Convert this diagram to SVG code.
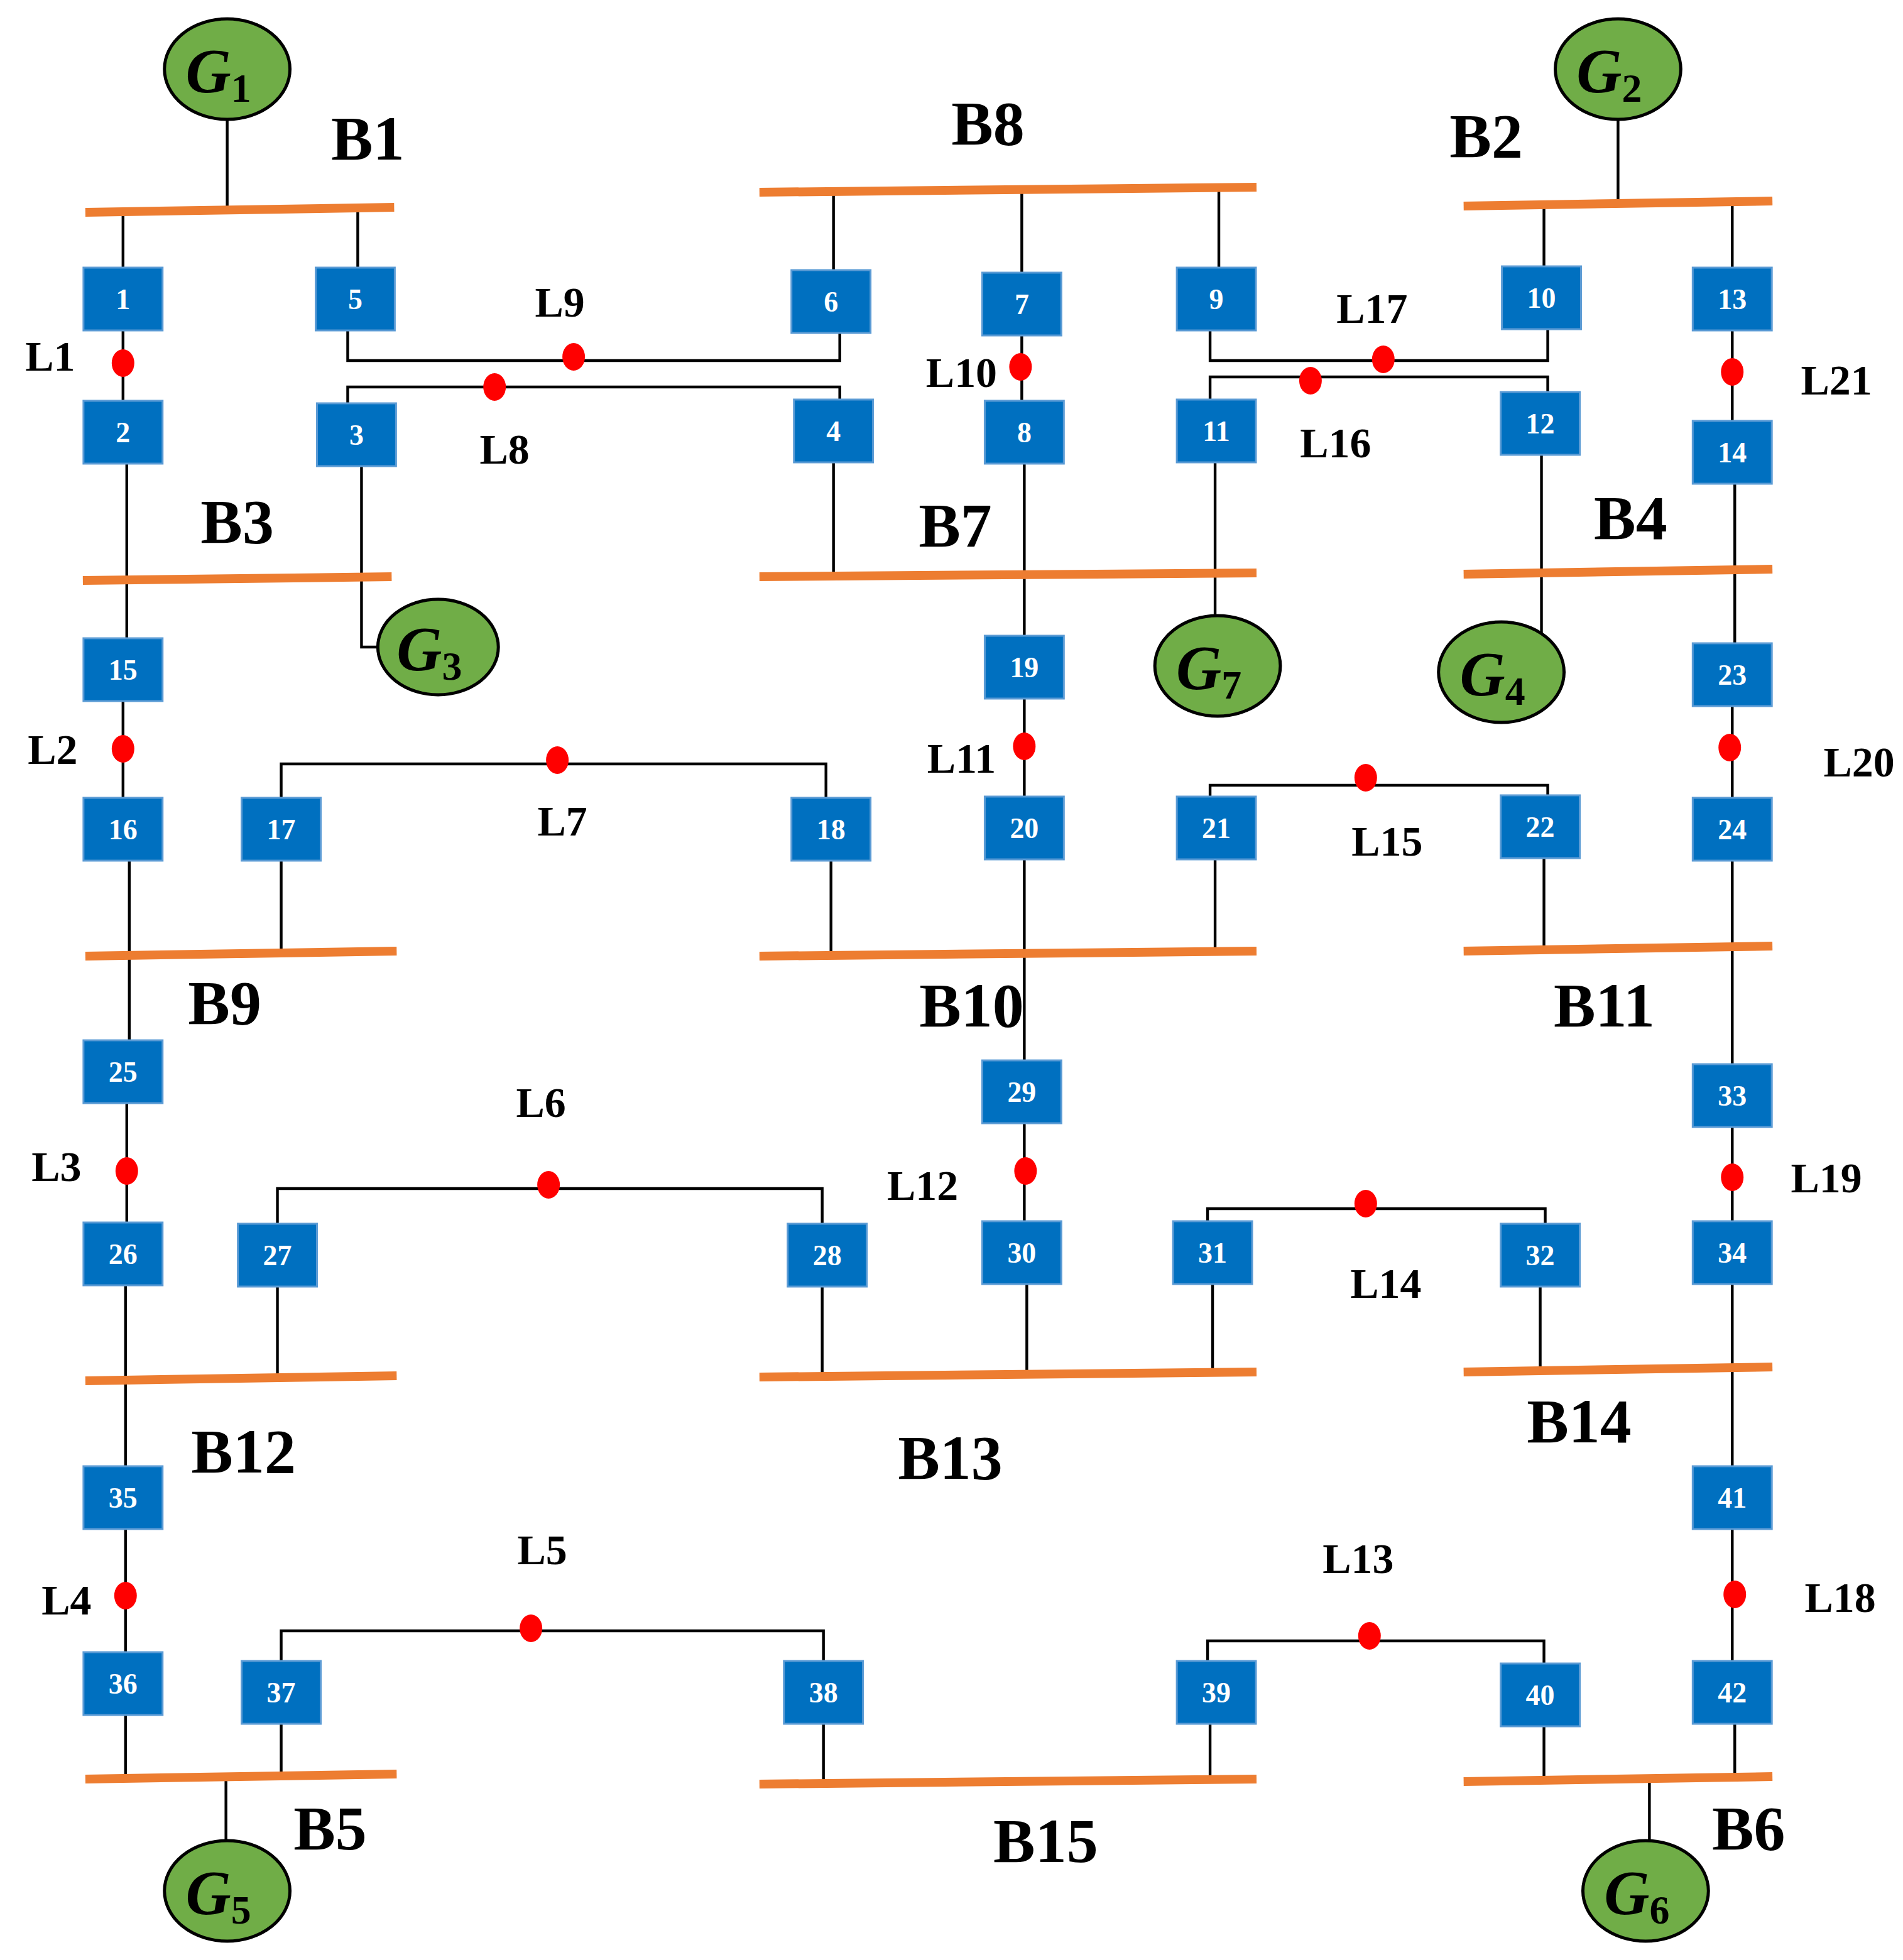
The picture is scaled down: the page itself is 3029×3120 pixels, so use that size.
<svg xmlns="http://www.w3.org/2000/svg" width="3029" height="3120" viewBox="0 0 3029 3120">
<style>
.bus{stroke:#ED7D31;stroke-width:7;fill:none}
.w{stroke:#000;stroke-width:2.2;fill:none}
.bx{fill:#0070C0;stroke:#5B9BD5;stroke-width:1.5}
.bt{font-family:"Liberation Serif",serif;font-weight:bold;font-size:23px;fill:#fff;text-anchor:middle}
.lt{font-family:"Liberation Serif",serif;font-weight:bold;font-size:34px;fill:#000;text-anchor:middle}
.bl{font-family:"Liberation Serif",serif;font-weight:bold;font-size:50px;fill:#000;text-anchor:middle}
.g{fill:#70AD47;stroke:#000;stroke-width:2.5}
.gt{font-family:"Liberation Serif",serif;font-weight:bold;font-style:italic;font-size:50px;fill:#000;text-anchor:middle}
.d{fill:#FF0000}
</style>
<rect width="3029" height="3120" fill="#fff"/>
<g transform="scale(1.998,2)">
<g id="connectors">
<path class="w" d="M181,95V167M1289,95V162M288,370V515H300M968,368V490M1228,362V505M180,1414V1465M1314,1416V1465"/>
<path class="w" d="M98,167V213M98,263V319M101,369V508M98,558V635M103,685V828M101,878V973M100,1023V1167M100,1217V1315M100,1365V1414"/>
<path class="w" d="M285,165V213M277,263V287H669V265M664,215V152M277,321V308H669V318M664,368V457"/>
<path class="w" d="M814,150V217M814,267V319M816,369V506M816,556V634M816,684V844M816,894V972M818,1022V1092"/>
<path class="w" d="M971,150V213M964,263V287H1233V262M1230,212V162M964,318V300H1233V312"/>
<path class="w" d="M1380,160V213M1380,263V335M1382,385V512M1380,562V635M1380,685V847M1380,897V972M1380,1022V1167M1380,1217V1322M1382,1372V1416"/>
<path class="w" d="M224,635V608H658V635M224,685V757M662,685V759M964,634V625H1233V633M968,684V757M1230,683V755"/>
<path class="w" d="M221,974V946H655V974M221,1024V1097M655,1024V1094M962,972V962H1231V974M966,1022V1092M1227,1024V1090"/>
<path class="w" d="M224,1322V1298H656V1322M224,1372V1412M656,1372V1418M962,1322V1306H1230V1324M964,1372V1416M1230,1374V1416"/>
</g>
<g id="buses">
<line id="B1" class="bus" x1="68" y1="169" x2="314" y2="165"/>
<line id="B3" class="bus" x1="66" y1="462" x2="312" y2="459"/>
<line id="B8" class="bus" x1="605" y1="153" x2="1001" y2="149"/>
<line id="B7" class="bus" x1="605" y1="459" x2="1001" y2="456"/>
<line id="B2" class="bus" x1="1166" y1="164" x2="1412" y2="160"/>
<line id="B4" class="bus" x1="1166" y1="457" x2="1412" y2="453"/>
<line id="B9" class="bus" x1="68" y1="761" x2="316" y2="757"/>
<line id="B10" class="bus" x1="605" y1="761" x2="1001" y2="757"/>
<line id="B11" class="bus" x1="1166" y1="757" x2="1412" y2="753"/>
<line id="B12" class="bus" x1="68" y1="1099" x2="316" y2="1095"/>
<line id="B13" class="bus" x1="605" y1="1096" x2="1001" y2="1092"/>
<line id="B14" class="bus" x1="1166" y1="1092" x2="1412" y2="1088"/>
<line id="B5" class="bus" x1="68" y1="1416" x2="316" y2="1412"/>
<line id="B15" class="bus" x1="605" y1="1420" x2="1001" y2="1416"/>
<line id="B6" class="bus" x1="1166" y1="1418" x2="1412" y2="1414"/>
</g>
<g id="bus-labels">
<text class="bl" x="293" y="127">B1</text><text class="bl" x="787" y="115">B8</text><text class="bl" x="1184" y="125">B2</text>
<text class="bl" x="189" y="432">B3</text><text class="bl" x="761" y="435">B7</text><text class="bl" x="1299" y="429">B4</text>
<text class="bl" x="179" y="815">B9</text><text class="bl" x="774" y="817">B10</text><text class="bl" x="1278" y="817">B11</text>
<text class="bl" x="194" y="1172">B12</text><text class="bl" x="757" y="1177">B13</text><text class="bl" x="1258" y="1148">B14</text>
<text class="bl" x="263" y="1472">B5</text><text class="bl" x="833" y="1482">B15</text><text class="bl" x="1393" y="1472">B6</text>
</g>
<g id="G1"><ellipse class="g" cx="181" cy="55" rx="50" ry="40"/><text class="gt" x="174" y="73">G<tspan font-size="32" font-style="normal" dy="8">1</tspan></text></g>
<g id="G2"><ellipse class="g" cx="1289" cy="55" rx="50" ry="40"/><text class="gt" x="1282" y="73">G<tspan font-size="32" font-style="normal" dy="8">2</tspan></text></g>
<g id="G3"><ellipse class="g" cx="349" cy="515" rx="48" ry="38"/><text class="gt" x="342" y="533">G<tspan font-size="32" font-style="normal" dy="8">3</tspan></text></g>
<g id="G7"><ellipse class="g" cx="970" cy="530" rx="50" ry="40"/><text class="gt" x="963" y="548">G<tspan font-size="32" font-style="normal" dy="8">7</tspan></text></g>
<g id="G4"><ellipse class="g" cx="1196" cy="535" rx="50" ry="40"/><text class="gt" x="1189" y="553">G<tspan font-size="32" font-style="normal" dy="8">4</tspan></text></g>
<g id="G5"><ellipse class="g" cx="181" cy="1505" rx="50" ry="40"/><text class="gt" x="174" y="1523">G<tspan font-size="32" font-style="normal" dy="8">5</tspan></text></g>
<g id="G6"><ellipse class="g" cx="1311" cy="1505" rx="50" ry="40"/><text class="gt" x="1304" y="1523">G<tspan font-size="32" font-style="normal" dy="8">6</tspan></text></g>
<g id="boxes">
<g id="n1"><rect class="bx" x="66.5" y="213" width="63" height="50"/><text class="bt" x="98" y="246">1</text></g>
<g id="n5"><rect class="bx" x="251.5" y="213" width="63" height="50"/><text class="bt" x="283" y="246">5</text></g>
<g id="n6"><rect class="bx" x="630.5" y="215" width="63" height="50"/><text class="bt" x="662" y="248">6</text></g>
<g id="n7"><rect class="bx" x="782.5" y="217" width="63" height="50"/><text class="bt" x="814" y="250">7</text></g>
<g id="n9"><rect class="bx" x="937.5" y="213" width="63" height="50"/><text class="bt" x="969" y="246">9</text></g>
<g id="n10"><rect class="bx" x="1196.5" y="212" width="63" height="50"/><text class="bt" x="1228" y="245">10</text></g>
<g id="n13"><rect class="bx" x="1348.5" y="213" width="63" height="50"/><text class="bt" x="1380" y="246">13</text></g>
<g id="n2"><rect class="bx" x="66.5" y="319" width="63" height="50"/><text class="bt" x="98" y="352">2</text></g>
<g id="n3"><rect class="bx" x="252.5" y="321" width="63" height="50"/><text class="bt" x="284" y="354">3</text></g>
<g id="n4"><rect class="bx" x="632.5" y="318" width="63" height="50"/><text class="bt" x="664" y="351">4</text></g>
<g id="n8"><rect class="bx" x="784.5" y="319" width="63" height="50"/><text class="bt" x="816" y="352">8</text></g>
<g id="n11"><rect class="bx" x="937.5" y="318" width="63" height="50"/><text class="bt" x="969" y="351">11</text></g>
<g id="n12"><rect class="bx" x="1195.5" y="312" width="63" height="50"/><text class="bt" x="1227" y="345">12</text></g>
<g id="n14"><rect class="bx" x="1348.5" y="335" width="63" height="50"/><text class="bt" x="1380" y="368">14</text></g>
<g id="n15"><rect class="bx" x="66.5" y="508" width="63" height="50"/><text class="bt" x="98" y="541">15</text></g>
<g id="n19"><rect class="bx" x="784.5" y="506" width="63" height="50"/><text class="bt" x="816" y="539">19</text></g>
<g id="n23"><rect class="bx" x="1348.5" y="512" width="63" height="50"/><text class="bt" x="1380" y="545">23</text></g>
<g id="n16"><rect class="bx" x="66.5" y="635" width="63" height="50"/><text class="bt" x="98" y="668">16</text></g>
<g id="n17"><rect class="bx" x="192.5" y="635" width="63" height="50"/><text class="bt" x="224" y="668">17</text></g>
<g id="n18"><rect class="bx" x="630.5" y="635" width="63" height="50"/><text class="bt" x="662" y="668">18</text></g>
<g id="n20"><rect class="bx" x="784.5" y="634" width="63" height="50"/><text class="bt" x="816" y="667">20</text></g>
<g id="n21"><rect class="bx" x="937.5" y="634" width="63" height="50"/><text class="bt" x="969" y="667">21</text></g>
<g id="n22"><rect class="bx" x="1195.5" y="633" width="63" height="50"/><text class="bt" x="1227" y="666">22</text></g>
<g id="n24"><rect class="bx" x="1348.5" y="635" width="63" height="50"/><text class="bt" x="1380" y="668">24</text></g>
<g id="n25"><rect class="bx" x="66.5" y="828" width="63" height="50"/><text class="bt" x="98" y="861">25</text></g>
<g id="n29"><rect class="bx" x="782.5" y="844" width="63" height="50"/><text class="bt" x="814" y="877">29</text></g>
<g id="n33"><rect class="bx" x="1348.5" y="847" width="63" height="50"/><text class="bt" x="1380" y="880">33</text></g>
<g id="n26"><rect class="bx" x="66.5" y="973" width="63" height="50"/><text class="bt" x="98" y="1006">26</text></g>
<g id="n27"><rect class="bx" x="189.5" y="974" width="63" height="50"/><text class="bt" x="221" y="1007">27</text></g>
<g id="n28"><rect class="bx" x="627.5" y="974" width="63" height="50"/><text class="bt" x="659" y="1007">28</text></g>
<g id="n30"><rect class="bx" x="782.5" y="972" width="63" height="50"/><text class="bt" x="814" y="1005">30</text></g>
<g id="n31"><rect class="bx" x="934.5" y="972" width="63" height="50"/><text class="bt" x="966" y="1005">31</text></g>
<g id="n32"><rect class="bx" x="1195.5" y="974" width="63" height="50"/><text class="bt" x="1227" y="1007">32</text></g>
<g id="n34"><rect class="bx" x="1348.5" y="972" width="63" height="50"/><text class="bt" x="1380" y="1005">34</text></g>
<g id="n35"><rect class="bx" x="66.5" y="1167" width="63" height="50"/><text class="bt" x="98" y="1200">35</text></g>
<g id="n41"><rect class="bx" x="1348.5" y="1167" width="63" height="50"/><text class="bt" x="1380" y="1200">41</text></g>
<g id="n36"><rect class="bx" x="66.5" y="1315" width="63" height="50"/><text class="bt" x="98" y="1348">36</text></g>
<g id="n37"><rect class="bx" x="192.5" y="1322" width="63" height="50"/><text class="bt" x="224" y="1355">37</text></g>
<g id="n38"><rect class="bx" x="624.5" y="1322" width="63" height="50"/><text class="bt" x="656" y="1355">38</text></g>
<g id="n39"><rect class="bx" x="937.5" y="1322" width="63" height="50"/><text class="bt" x="969" y="1355">39</text></g>
<g id="n40"><rect class="bx" x="1195.5" y="1324" width="63" height="50"/><text class="bt" x="1227" y="1357">40</text></g>
<g id="n42"><rect class="bx" x="1348.5" y="1322" width="63" height="50"/><text class="bt" x="1380" y="1355">42</text></g>
</g>
<g id="faults">
<ellipse class="d" cx="98" cy="289" rx="9" ry="11"/><ellipse class="d" cx="98" cy="596" rx="9" ry="11"/><ellipse class="d" cx="101" cy="932" rx="9" ry="11"/><ellipse class="d" cx="100" cy="1270" rx="9" ry="11"/>
<ellipse class="d" cx="457" cy="284" rx="9" ry="11"/><ellipse class="d" cx="394" cy="308" rx="9" ry="11"/><ellipse class="d" cx="813" cy="292" rx="9" ry="11"/><ellipse class="d" cx="816" cy="594" rx="9" ry="11"/>
<ellipse class="d" cx="817" cy="932" rx="9" ry="11"/><ellipse class="d" cx="1102" cy="286" rx="9" ry="11"/><ellipse class="d" cx="1044" cy="303" rx="9" ry="11"/><ellipse class="d" cx="1380" cy="296" rx="9" ry="11"/>
<ellipse class="d" cx="1378" cy="595" rx="9" ry="11"/><ellipse class="d" cx="1380" cy="937" rx="9" ry="11"/><ellipse class="d" cx="1382" cy="1269" rx="9" ry="11"/><ellipse class="d" cx="444" cy="605" rx="9" ry="11"/>
<ellipse class="d" cx="1088" cy="619" rx="9" ry="11"/><ellipse class="d" cx="437" cy="943" rx="9" ry="11"/><ellipse class="d" cx="1088" cy="958" rx="9" ry="11"/><ellipse class="d" cx="423" cy="1296" rx="9" ry="11"/><ellipse class="d" cx="1091" cy="1302" rx="9" ry="11"/>
</g>
<g id="line-labels">
<text class="lt" x="40" y="295">L1</text><text class="lt" x="42" y="608">L2</text><text class="lt" x="45" y="940">L3</text><text class="lt" x="53" y="1285">L4</text>
<text class="lt" x="446" y="252">L9</text><text class="lt" x="402" y="369">L8</text><text class="lt" x="766" y="308">L10</text><text class="lt" x="766" y="615">L11</text>
<text class="lt" x="735" y="955">L12</text><text class="lt" x="1093" y="257">L17</text><text class="lt" x="1064" y="364">L16</text><text class="lt" x="1463" y="314">L21</text>
<text class="lt" x="1481" y="618">L20</text><text class="lt" x="1455" y="949">L19</text><text class="lt" x="1466" y="1283">L18</text><text class="lt" x="448" y="665">L7</text>
<text class="lt" x="1105" y="681">L15</text><text class="lt" x="431" y="889">L6</text><text class="lt" x="1104" y="1033">L14</text><text class="lt" x="432" y="1245">L5</text><text class="lt" x="1082" y="1252">L13</text>
</g>
</g>
</svg>
